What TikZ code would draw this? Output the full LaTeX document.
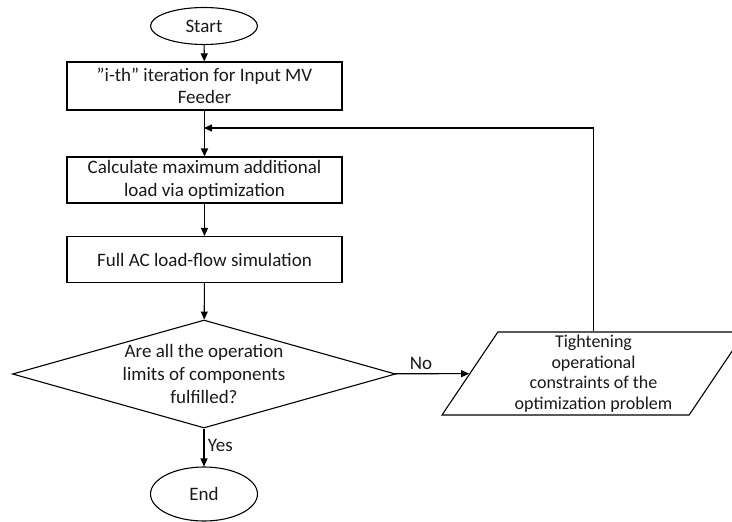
\documentclass[tikz,border=0pt]{standalone}
\usepackage{fontspec}
\setmainfont{Carlito}
\usepackage{tikz}
\usetikzlibrary{shapes.geometric, arrows.meta, positioning}

\tikzstyle{startstop} = [ellipse, minimum width=107pt, text centered, draw=black, inner sep=0pt]
\tikzstyle{process} = [rectangle, minimum width=275pt, minimum height=46pt, text centered, align=center, draw=black, inner sep=1pt]
\tikzstyle{arrow} = [-{Triangle[length=8pt, width=7pt]}]
\tikzset{
    decision/.style={
        diamond, aspect=3.55, minimum width=383pt, minimum height=108pt, inner sep=-1pt, align=center, draw=black
    },
    io/.style={
        trapezium, trapezium left angle=54, trapezium right angle=126, trapezium stretches body,
        minimum width=303pt, minimum height=83pt, inner sep=0pt, align=center, draw=black
    },
    every node/.style={font=\fontsize{19}{23}\selectfont, text=black!90}
}

\begin{document}
\begin{tikzpicture}[x=1pt, y=-1pt, line width=1.1pt]
    \useasboundingbox (0,0) rectangle (732,522);

    % Start / End
    \node[startstop, minimum height=37pt] (start) at (204,26) {Start};
    \node[startstop, minimum height=54pt] (stop) at (204,494) {End};

    % Process steps
    \node[process, minimum height=48pt, font=\fontsize{19}{22}\selectfont] (feeder) at (204.5,86) {\textquotedblright i-th\textquotedblright\ iteration for Input MV\\Feeder};
    \node[process] (calc) at (204.5,180) {Calculate maximum additional\\load via optimization};
    \node[process] (flow) at (204.5,259.5) {Full AC load-flow simulation};

    % Check
    \node[decision] (check) at (204,374) {Are all the operation\\limits of components\\fulfilled?};

    % Tightening step
    \node[io, font=\fontsize{18}{20.5}\selectfont] (tight) at (593.5,373.5) {Tightening\\operational\\constraints of the\\optimization problem};

    \coordinate (join) at (204,128);

    % Relationships
    \draw[arrow] (start) -- (feeder);
    \draw[arrow] (feeder) -- (calc);
    \draw[arrow] (calc) -- (flow);
    \draw[arrow] (flow) -- (check);
    \draw[arrow] (check) -- node[above, pos=0.35] {No} (tight);
    \draw[arrow] (check) -- node[right, pos=0.45] {Yes} (stop);
    \draw[arrow] (tight.north) |- (join);

\end{tikzpicture}
\end{document}
